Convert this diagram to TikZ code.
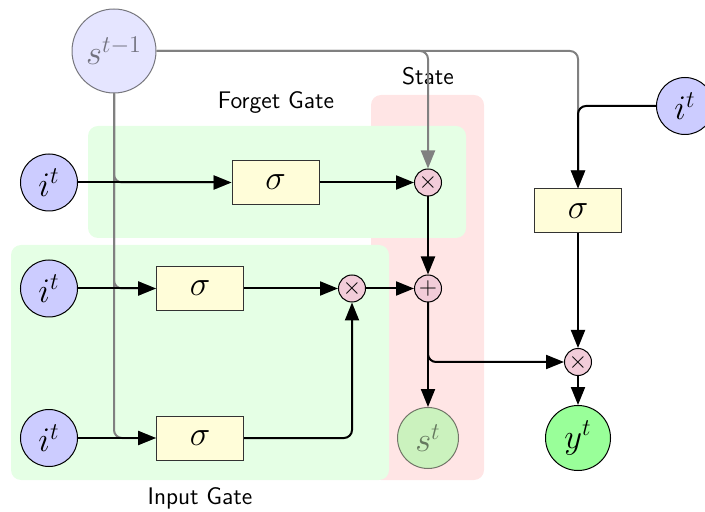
\documentclass[tikz,border=0pt]{standalone}
\usetikzlibrary{arrows.meta}
\begin{document}
\begin{tikzpicture}[x=0.5pt,y=-0.5pt,
  font=\large,
  tip/.style={-{Triangle[length=9pt,width=7pt]}},
  wire/.style={tip,line width=1pt,rounded corners=4pt},
  graywire/.style={wire,draw=black!50},
  inp/.style={circle,draw,line width=0.5pt,fill=blue!20,minimum size=28.5pt,inner sep=0pt,font=\LARGE},
  outp/.style={circle,draw,line width=0.5pt,fill=green!40,minimum size=32.5pt,inner sep=0pt,font=\LARGE},
  gate/.style={draw=black!80,line width=0.5pt,fill=yellow!15,minimum width=43.5pt,minimum height=22pt,inner sep=0pt,font=\LARGE},
  op/.style={circle,draw,line width=0.5pt,fill=purple!20,minimum size=13.5pt,inner sep=0pt,font=\large},
  region/.style={rounded corners=5pt,draw=none},
  lbl/.style={font=\large\sffamily}]
\useasboundingbox (0,0) rectangle (705,512);

% shaded regions
\fill[region,red!10] (371,95) rectangle (484,480);
\fill[region,green!10] (88,126) rectangle (466,238);
\fill[region,green!10] (11,245) rectangle (389,480);
\node[lbl] (lforget) at (276,103) {Forget Gate};
\node[lbl] (lstate) at (428,76) {State};
\node[lbl] (linput) at (200,498) {Input Gate};

% nodes
\node[inp,opacity=0.5,minimum size=42pt] (sprev) at (114,51) {$s^{t-1}$};
\node[inp] (i1) at (49,182.5) {$i^t$};
\node[inp] (i2) at (49,288.5) {$i^t$};
\node[inp] (i3) at (49,438) {$i^t$};
\node[inp] (i4) at (685,106) {$i^t$};
\node[gate] (sf) at (275.5,182.5) {$\sigma$};
\node[gate] (s1) at (200,288.5) {$\sigma$};
\node[gate] (s2) at (200,438) {$\sigma$};
\node[gate] (so) at (578,211) {$\sigma$};
\node[op] (xf) at (428,182.5) {$\times$};
\node[op] (xi) at (352,288.5) {$\times$};
\node[op] (pl) at (428,288.5) {$+$};
\node[op] (xo) at (578,362) {$\times$};
\node[outp,opacity=0.5,minimum size=30.5pt] (st) at (428,438) {$s^t$};
\node[outp] (yt) at (578,438) {$y^t$};

% previous state feeds every gate
\draw[graywire] (sprev) -| (xf);
\draw[graywire] (sprev) -| (so);
\draw[graywire] (sprev) |- (sf);
\draw[graywire] (sprev) |- (s1);
\draw[graywire] (sprev) |- (s2);

% data flow
\draw[wire] (i1) -- (sf);
\draw[wire] (i2) -- (s1);
\draw[wire] (i3) -- (s2);
\draw[wire] (sf) -- (xf);
\draw[wire] (s1) -- (xi);
\draw[wire] (s2) -| (xi);
\draw[wire] (xf) -- (pl);
\draw[wire] (xi) -- (pl);
\draw[wire] (pl) -- (st);
\draw[wire] (pl) |- (xo);
\draw[wire] (i4) -| (so);
\draw[wire] (so) -- (xo);
\draw[wire] (xo) -- (yt);
\end{tikzpicture}
\end{document}
